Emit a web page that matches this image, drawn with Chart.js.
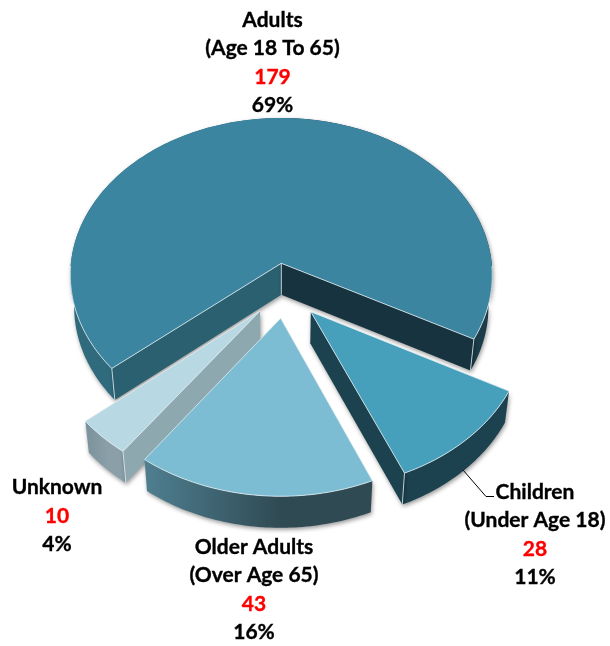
<!DOCTYPE html>
<html>
<head>
<meta charset="utf-8">
<title>Patients by age group</title>
<script src="https://cdn.jsdelivr.net/npm/chart.js@4"></script>
<style>
    html, body { margin: 0; padding: 0; background: #fff; }
    canvas { display: block; }
</style>
</head>
<body>
<canvas id="ageChart" width="610" height="646"></canvas>
<script>
const categories = ['Adults', 'Children', 'Older Adults', 'Unknown'];
const subLabels = ['(Age 18 To 65)', '(Under Age 18)', '(Over Age 65)', ''];
const counts = [179, 28, 43, 10];
const percents = ['69%', '11%', '16%', '4%'];

const topColors = ['#3c85a0', '#46a0bc', '#7dbdd4', '#b8d8e4'];

// look of each slice, same order as categories
const sliceShift = [[0, 0], [0.137, 0.303], [-0.003, 0.343], [-0.099, 0.299]];
const rimColors = [['#2f6a7d', '#1b3c49'], ['#1c4250', '#1c4250'], ['#4f7f90', '#2f4a53'], ['#7a929c', '#8a9fa8']];
// null = that cut face looks away from the viewer
const startWall = ['#2a6070', null, null, '#8ea8b0'];
const endWall = ['#17333f', '#1c4250', null, null];
const paintOrder = [0, 3, 1, 2];
const labelPos = [[272.5, 20.5], [535, 492.5], [254, 547.5], [57, 487.5]];

const SQUASH = 0.742;
const PERSPECTIVE = 0.0745;
const DEPTH = 31.5;
const BOTTOM_SHRINK = 0.982;
const EDGE = 'rgba(225,236,240,0.8)';

function project(el, shift, angle, r) {
    const u = shift[0] + r * Math.cos(angle);
    const v = shift[1] + r * Math.sin(angle);
    const w = 1 - PERSPECTIVE * v;
    return {
        x: el.x + el.outerRadius * u / w,
        y: el.y + el.outerRadius * SQUASH * v / w
    };
}

function lower(el, p) {
    return { x: el.x + (p.x - el.x) * BOTTOM_SHRINK, y: p.y + DEPTH };
}

function polygon(ctx, pts) {
    ctx.beginPath();
    pts.forEach(function(p, i) {
        if (i === 0) ctx.moveTo(p.x, p.y);
        else ctx.lineTo(p.x, p.y);
    });
    ctx.closePath();
}

function edgeLine(ctx, a, b) {
    ctx.beginPath();
    ctx.moveTo(a.x, a.y);
    ctx.lineTo(b.x, b.y);
    ctx.stroke();
}

function drawSlice(ctx, el, i) {
    const shift = sliceShift[i];
    const arcPts = [];
    const steps = Math.ceil((el.endAngle - el.startAngle) / (Math.PI / 180));
    for (let s = 0; s <= steps; s++) {
        const a = el.startAngle + (el.endAngle - el.startAngle) * s / steps;
        const p = project(el, shift, a, 1);
        p.front = Math.sin(a) > 0;
        arcPts.push(p);
    }
    const apex = project(el, shift, 0, 0);
    const first = arcPts[0];
    const last = arcPts[arcPts.length - 1];

    ctx.save();
    ctx.shadowColor = 'rgba(0,0,0,0.4)';
    ctx.shadowBlur = 4;
    ctx.shadowOffsetX = 1;
    ctx.shadowOffsetY = 2;

    // outer rim
    const xs = arcPts.map(function(p) { return p.x; });
    const grad = ctx.createLinearGradient(Math.min.apply(null, xs), 0, Math.max.apply(null, xs), 0);
    if (i === 0) {
        grad.addColorStop(0.45, rimColors[i][0]);
        grad.addColorStop(0.55, rimColors[i][1]);
    } else {
        grad.addColorStop(0, rimColors[i][0]);
        grad.addColorStop(0.6, rimColors[i][1]);
    }
    polygon(ctx, arcPts.concat(arcPts.map(function(p) { return lower(el, p); }).reverse()));
    ctx.fillStyle = grad;
    ctx.fill();

    // cut faces
    if (startWall[i]) {
        polygon(ctx, [apex, first, lower(el, first), lower(el, apex)]);
        ctx.fillStyle = startWall[i];
        ctx.fill();
    }
    if (endWall[i]) {
        polygon(ctx, [apex, last, lower(el, last), lower(el, apex)]);
        ctx.fillStyle = endWall[i];
        ctx.fill();
    }
    ctx.restore();

    // top face
    polygon(ctx, [apex].concat(arcPts));
    ctx.fillStyle = el.options.backgroundColor;
    ctx.fill();

    // light edges, only on the side facing the viewer
    ctx.strokeStyle = EDGE;
    ctx.lineWidth = 1;
    edgeLine(ctx, apex, first);
    edgeLine(ctx, apex, last);
    for (let k = 1; k < arcPts.length; k++) {
        if (arcPts[k].front && arcPts[k - 1].front) edgeLine(ctx, arcPts[k - 1], arcPts[k]);
    }
    if (startWall[i]) edgeLine(ctx, first, lower(el, first));
    if (endWall[i]) edgeLine(ctx, last, lower(el, last));
    if (i === 0) edgeLine(ctx, apex, lower(el, apex));
}

const piePlugin = {
    id: 'tiltedPie',
    beforeDatasetsDraw(chart) {
        const ctx = chart.ctx;
        const arcs = chart.getDatasetMeta(0).data;
        paintOrder.forEach(function(i) {
            drawSlice(ctx, arcs[i], i);
        });
        return false;
    },
    afterDraw(chart) {
        const ctx = chart.ctx;

        // leader line for Children
        ctx.save();
        ctx.strokeStyle = '#000';
        ctx.lineWidth = 1;
        ctx.beginPath();
        ctx.moveTo(463, 470);
        ctx.lineTo(486, 496.5);
        ctx.lineTo(494, 496.5);
        ctx.stroke();

        ctx.font = 'bold 21px Lato, "Open Sans", sans-serif';
        ctx.textAlign = 'center';
        ctx.textBaseline = 'middle';
        ctx.lineWidth = 0.35;
        function put(text, x, y, color) {
            ctx.fillStyle = color;
            ctx.strokeStyle = color;
            ctx.fillText(text, x, y);
            ctx.strokeText(text, x, y);
        }
        categories.forEach(function(name, i) {
            const x = labelPos[i][0];
            let y = labelPos[i][1];
            put(name, x, y, '#000');
            if (subLabels[i]) {
                y += 28;
                put(subLabels[i], x, y, '#000');
            }
            y += 28.5;
            put(String(counts[i]), x, y, '#ff0000');
            y += 28.5;
            put(percents[i], x, y, '#000');
        });
        ctx.restore();
    }
};

new Chart(document.getElementById('ageChart'), {
    type: 'pie',
    data: {
        labels: categories,
        datasets: [{
            data: counts,
            backgroundColor: topColors,
            borderWidth: 0
        }]
    },
    options: {
        responsive: false,
        animation: false,
        rotation: 230.1,
        layout: { padding: { left: 70.9, right: 118.3, top: 52.9, bottom: 172.3 } },
        plugins: {
            legend: { display: false },
            tooltip: { enabled: false }
        }
    },
    plugins: [piePlugin]
});
</script>
</body>
</html>
